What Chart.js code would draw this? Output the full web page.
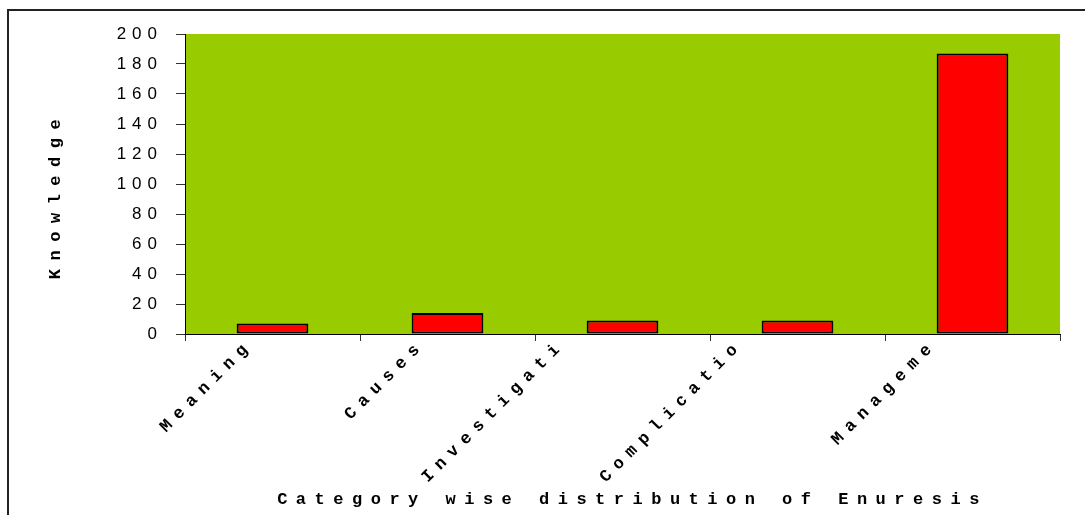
<!DOCTYPE html>
<html lang="en">
<head>
    <meta charset="UTF-8">
    <title>Category wise distribution of Enuresis</title>
    <style>
        body {
            margin: 0;
            background: #fff;
        }

        .wrap {
            position: relative;
            width: 1085px;
            height: 515px;
            overflow: hidden;
        }

        .frame {
            position: absolute;
            left: 7px;
            top: 9px;
            right: -10px;
            bottom: -10px;
            border-left: 2px solid #222;
            border-top: 2px solid #222;
        }

        canvas {
            position: absolute;
            left: 0;
            top: 0;
        }

        .warm {
            position: absolute;
            left: -999px;
            font: bold 17px "Liberation Mono";
        }
    </style>
    <script src="https://cdn.jsdelivr.net/npm/chart.js"></script>
</head>
<body>
    <div class="wrap">
        <div class="frame"></div>
        <canvas id="knowledgeChart" width="1085" height="515"></canvas>
    </div>
    <span class="warm">Knowledge</span>

    <script>
        // data
        const categories = ['Meaning', 'Causes', 'Investigation', 'Complications', 'Management'];
        const tickLabels = ['Meaning', 'Causes', 'Investigati', 'Complicatio', 'Manageme']; // cut off in the original
        const knowledge = [7, 14, 9, 9, 187];
        const yTicks = [0, 20, 40, 60, 80, 100, 120, 140, 160, 180, 200];

        const plotColor = '#99CC00';
        const monoFont = { family: '"Liberation Mono", "Courier New", monospace', size: 17, weight: 'bold' };

        // excel placed the slanted labels a bit unevenly, nudge them in x
        const labelNudge = [0, -3, -38, -35, -16];

        // wide letter spacing like the old Excel chart
        const spacing = {
            x: { ticks: '7.5px', title: '8.5px', shift: [10, 0] },
            y: { ticks: '6px', title: '8.5px', shift: [0, 11] }
        };

        const spacedText = {
            id: 'spacedText',
            beforeDraw(chart) {
                const ctx = chart.ctx;
                const a = chart.chartArea;
                ctx.save();
                ctx.fillStyle = plotColor;
                ctx.fillRect(a.left, a.top, a.right - a.left, a.bottom - a.top);
                ctx.restore();

                Object.values(chart.scales).forEach(s => {
                    if (s._spaced || !spacing[s.id]) return;
                    const sp = spacing[s.id];
                    const drawLabels = s.drawLabels;
                    const drawTitle = s.drawTitle;
                    s.drawLabels = function (area) {
                        if (this.id === 'x') {
                            const items = this.getLabelItems(area);
                            if (!items._nudged) {
                                items.forEach((it, i) => { it.options.translation[0] += labelNudge[i] || 0; });
                                items._nudged = true;
                            }
                        }
                        ctx.save();
                        ctx.letterSpacing = sp.ticks;
                        drawLabels.call(this, area);
                        ctx.restore();
                    };
                    s.drawTitle = function () {
                        ctx.save();
                        ctx.translate(sp.shift[0], sp.shift[1]);
                        ctx.letterSpacing = sp.title;
                        drawTitle.call(this);
                        ctx.restore();
                    };
                    s._spaced = true;
                });
            }
        };

        function drawChart() {
            new Chart(document.getElementById('knowledgeChart'), {
                type: 'bar',
                data: {
                    labels: categories,
                    datasets: [{
                        label: 'Knowledge',
                        data: knowledge,
                        backgroundColor: '#FF0000',
                        borderColor: '#000000',
                        borderWidth: 2,
                        borderSkipped: false,
                        barPercentage: 0.41,
                        categoryPercentage: 1.0
                    }]
                },
                options: {
                    responsive: false,
                    animation: false,
                    layout: {
                        padding: { left: 46, top: 34, right: 25, bottom: 5 }
                    },
                    plugins: {
                        legend: { display: false },
                        tooltip: { enabled: false }
                    },
                    scales: {
                        x: {
                            offset: true,
                            grid: {
                                offset: true,
                                drawOnChartArea: false,
                                tickLength: 7,
                                color: '#333'
                            },
                            border: { color: '#000', width: 1 },
                            ticks: {
                                minRotation: 45,
                                maxRotation: 45,
                                autoSkip: false,
                                labelOffset: -22,
                                padding: -6,
                                color: '#000',
                                font: monoFont,
                                callback: (v, i) => tickLabels[i]
                            },
                            title: {
                                display: true,
                                text: 'Category wise distribution of Enuresis',
                                color: '#000',
                                font: monoFont,
                                padding: { top: 0, bottom: 0 }
                            },
                            afterFit: scale => { scale.height = 176; }
                        },
                        y: {
                            min: 0,
                            max: 200,
                            grid: {
                                drawOnChartArea: false,
                                tickLength: 9,
                                color: '#333'
                            },
                            border: { color: '#000', width: 1 },
                            afterBuildTicks: scale => {
                                scale.ticks = yTicks.map(v => ({ value: v }));
                            },
                            ticks: {
                                padding: 13,
                                color: '#000',
                                font: { family: '"Liberation Sans", Arial, sans-serif', size: 17 }
                            },
                            title: {
                                display: true,
                                text: 'Knowledge',
                                color: '#000',
                                font: monoFont,
                                padding: { top: 0, bottom: 0 }
                            },
                            afterFit: scale => { scale.width = 139; }
                        }
                    }
                },
                plugins: [spacedText]
            });
        }

        document.fonts.load('bold 17px "Liberation Mono"').then(drawChart, drawChart);
    </script>
</body>
</html>
